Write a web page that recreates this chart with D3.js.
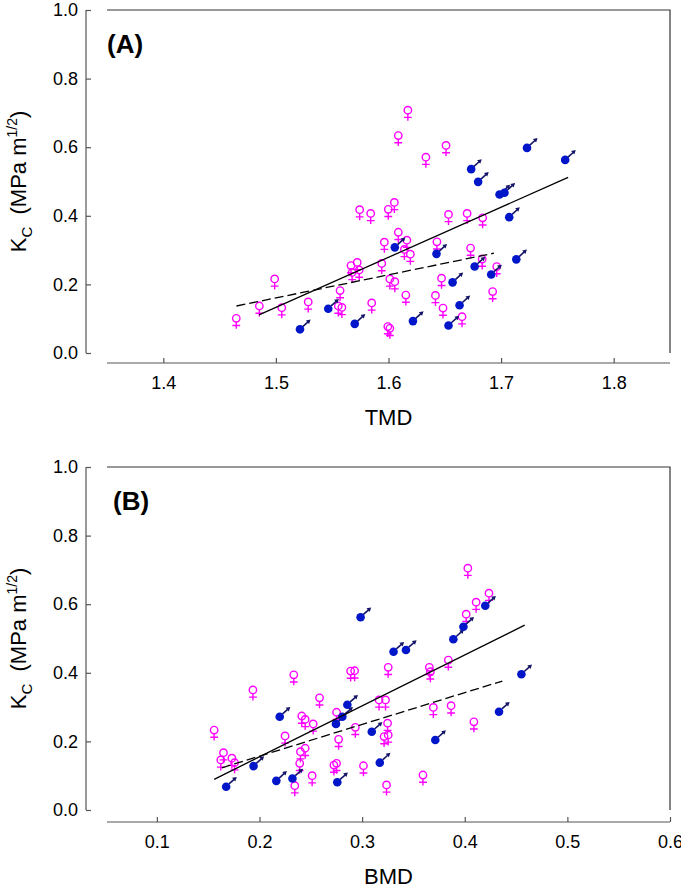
<!DOCTYPE html>
<html><head><meta charset="utf-8">
<script src="https://cdn.jsdelivr.net/npm/d3@7"></script>
<style>
body{margin:0;background:#fff;}
text{font-family:"Liberation Sans",Arial,sans-serif;fill:#000;}
</style>
</head><body>
<svg id="chart" width="681" height="887"></svg>
<script>
// ---------- DATA ----------
const kcTicks  = [0.0, 0.2, 0.4, 0.6, 0.8, 1.0];
const tmdTicks = [1.4, 1.5, 1.6, 1.7, 1.8];
const bmdTicks = [0.1, 0.2, 0.3, 0.4, 0.5, 0.6];

// Panel A : TMD vs Kc
const femaleTMD = [1.4648,1.4853,1.4989,1.5052,1.5287,1.5570,1.5554,1.5586,1.5667,1.5722,1.5677,1.5740,1.5744,1.5842,1.5851,1.5998,1.6052,1.5963,1.5940,1.6012,1.6056,1.5994,1.6012,1.6087,1.6163,1.6141,1.6194,1.6154,1.6430,1.6417,1.6471,1.6484,1.6533,1.6698,1.6729,1.6653,1.6836,1.6832,1.6961,1.6925,1.6172,1.6087,1.6511,1.6332];
const femaleKcA = [0.101,0.137,0.216,0.132,0.149,0.182,0.137,0.133,0.255,0.264,0.235,0.242,0.418,0.407,0.146,0.419,0.439,0.323,0.261,0.216,0.208,0.077,0.072,0.352,0.329,0.302,0.288,0.169,0.324,0.168,0.218,0.131,0.404,0.407,0.306,0.106,0.394,0.274,0.252,0.179,0.708,0.634,0.605,0.571];
const maleTMD = [1.5214,1.5465,1.5700,1.6056,1.6217,1.6426,1.6569,1.6631,1.6533,1.6765,1.6912,1.7135,1.7072,1.6734,1.6796,1.6986,1.7030,1.7230,1.7569];
const maleKcA = [0.069,0.129,0.085,0.308,0.093,0.289,0.206,0.139,0.080,0.252,0.229,0.273,0.396,0.536,0.499,0.462,0.467,0.598,0.563];
const fitA_solid_x  = [1.485, 1.7595];
const fitA_solid_y  = [0.111, 0.512];
const fitA_dashed_x = [1.465, 1.6936];
const fitA_dashed_y = [0.137, 0.291];

// Panel B : BMD vs Kc
const femaleBMD = [0.1558,0.1649,0.1623,0.1731,0.1757,0.1936,0.2249,0.2334,0.2344,0.2412,0.2445,0.2523,0.2585,0.2399,0.2445,0.2392,0.2513,0.2751,0.2771,0.2725,0.2751,0.2888,0.2927,0.2934,0.4030,0.4236,0.4111,0.4014,0.3254,0.3655,0.3665,0.3840,0.3165,0.3228,0.3248,0.3214,0.3254,0.3694,0.3867,0.4089,0.3013,0.3238,0.3593];
const femaleKcB = [0.233,0.167,0.146,0.151,0.138,0.350,0.216,0.394,0.071,0.274,0.264,0.251,0.327,0.170,0.180,0.136,0.100,0.285,0.206,0.131,0.136,0.405,0.406,0.241,0.705,0.632,0.606,0.571,0.416,0.416,0.403,0.437,0.321,0.321,0.253,0.214,0.219,0.299,0.304,0.257,0.129,0.073,0.102];
const maleBMD = [0.1675,0.1942,0.2197,0.2164,0.2321,0.2758,0.2745,0.2807,0.2856,0.2985,0.3306,0.3427,0.3889,0.3987,0.4200,0.4552,0.4334,0.3713,0.3094,0.3172];
const maleKcB = [0.068,0.128,0.272,0.085,0.092,0.081,0.251,0.272,0.307,0.562,0.4615,0.4665,0.4976,0.5344,0.5956,0.3956,0.2866,0.204,0.228,0.138];
const fitB_solid_x  = [0.1558, 0.4584];
const fitB_solid_y  = [0.0895, 0.539];
const fitB_dashed_x = [0.1633, 0.4366];
const fitB_dashed_y = [0.123, 0.376];

// ---------- DRAW ----------
const svg = d3.select("#chart");
const MAGENTA = "#ff00ff", BLUE = "#0016c8", NAVY = "#141466", AXIS = "#555";

function panel(cfg){
  const {top, bottom, left, right, yAxisX, xAxisY, xDomain, xTicks, xFmt,
         fx, fy, mx, my, sx, sy, dx, dy, tag, tagX, xTitle} = cfg;
  const x = d3.scaleLinear().domain(xDomain).range([left, right]);
  const y = d3.scaleLinear().domain([0, 1]).range([bottom, top]);
  const g = svg.append("g");

  // frame (top + right)
  g.append("path").attr("d", `M${left},${top}H${right}V${bottom}`)
    .attr("fill","none").attr("stroke","#333").attr("stroke-width",1.2);

  // y axis (offset left, ticks inward)
  const ya = g.append("g").attr("transform",`translate(${yAxisX},0)`)
    .call(d3.axisRight(y).tickValues(kcTicks).tickSize(5).tickFormat(d3.format(".1f")));
  ya.select(".domain").attr("d",`M0,${bottom}V${top}`).attr("stroke",AXIS).attr("stroke-width",1.2);
  ya.selectAll(".tick line").attr("stroke",AXIS).attr("stroke-width",1.2);
  ya.selectAll(".tick text").attr("x",-8).attr("text-anchor","end")
    .attr("font-size",18).attr("fill","#000").attr("font-family","Liberation Sans, Arial, sans-serif");

  // x axis (offset below, ticks inward)
  const xa = g.append("g").attr("transform",`translate(0,${xAxisY})`)
    .call(d3.axisTop(x).tickValues(xTicks).tickSize(5).tickFormat(xFmt));
  xa.select(".domain").attr("d",`M${left},0H${right}`).attr("stroke",AXIS).attr("stroke-width",1.2);
  xa.selectAll(".tick line").attr("stroke",AXIS).attr("stroke-width",1.2);
  xa.selectAll(".tick text").attr("y",20).attr("dy","0.35em")
    .attr("font-size",18).attr("fill","#000").attr("font-family","Liberation Sans, Arial, sans-serif");

  // axis titles
  g.append("text").attr("x",(left+right)/2).attr("y",xAxisY+54).attr("dy","0.35em")
    .attr("text-anchor","middle").attr("font-size",22).text(xTitle);
  const yl = g.append("text")
    .attr("transform",`translate(26,${(top+bottom)/2}) rotate(-90)`)
    .attr("text-anchor","middle").attr("font-size",22);
  yl.append("tspan").text("K");
  yl.append("tspan").attr("font-size",15).attr("dy",6).text("C");
  yl.append("tspan").attr("dy",-6).text("\u00a0\u00a0(MPa m");
  yl.append("tspan").attr("font-size",14).attr("dy",-9).text("1/2");
  yl.append("tspan").attr("dy",9).text(")");

  // panel tag
  g.append("text").attr("x",tagX).attr("y",top+43).attr("font-size",26)
    .attr("font-weight","bold").text(tag);

  // females
  const fdata = fx.map((v,i)=>({x:v,y:fy[i]}));
  const fg = g.selectAll(".f").data(fdata).join("g")
    .attr("transform",d=>`translate(${x(d.x)},${y(d.y)})`);
  fg.append("circle").attr("r",3.7).attr("fill","none").attr("stroke",MAGENTA).attr("stroke-width",1.4);
  fg.append("path").attr("d","M0,3.7V10.5M-3.9,7.2H3.9").attr("stroke",MAGENTA)
    .attr("stroke-width",1.4).attr("fill","none");

  // males
  const mdata = mx.map((v,i)=>({x:v,y:my[i]}));
  const mg = g.selectAll(".m").data(mdata).join("g")
    .attr("transform",d=>`translate(${x(d.x)},${y(d.y)})`);
  mg.append("path").attr("d","M2.8,-2.8L8.0,-7.4").attr("stroke",NAVY).attr("stroke-width",1.6);
  mg.append("path").attr("d","M10.6,-9.8L5.9,-8.9L9.1,-5.3Z").attr("fill",NAVY);
  mg.append("circle").attr("r",4.3).attr("fill",BLUE);

  // fit lines
  const line = d3.line().x(d=>x(d[0])).y(d=>y(d[1]));
  g.append("path").datum(sx.map((v,i)=>[v,sy[i]])).attr("d",line)
    .attr("fill","none").attr("stroke","#000").attr("stroke-width",1.3);
  g.append("path").datum(dx.map((v,i)=>[v,dy[i]])).attr("d",line)
    .attr("fill","none").attr("stroke","#000").attr("stroke-width",1.3).attr("stroke-dasharray","9,4");
}

panel({top:10, bottom:353, left:107, right:670, yAxisX:86, xAxisY:363,
  xDomain:[1.35,1.85], xTicks:tmdTicks, xFmt:d3.format(".1f"),
  fx:femaleTMD, fy:femaleKcA, mx:maleTMD, my:maleKcA,
  sx:fitA_solid_x, sy:fitA_solid_y, dx:fitA_dashed_x, dy:fitA_dashed_y,
  tag:"(A)", tagX:107, xTitle:"TMD"});

panel({top:467, bottom:810, left:107, right:670, yAxisX:86, xAxisY:822,
  xDomain:[0.0514,0.6], xTicks:bmdTicks, xFmt:d3.format(".1f"),
  fx:femaleBMD, fy:femaleKcB, mx:maleBMD, my:maleKcB,
  sx:fitB_solid_x, sy:fitB_solid_y, dx:fitB_dashed_x, dy:fitB_dashed_y,
  tag:"(B)", tagX:113, xTitle:"BMD"});
</script>
</body></html>
